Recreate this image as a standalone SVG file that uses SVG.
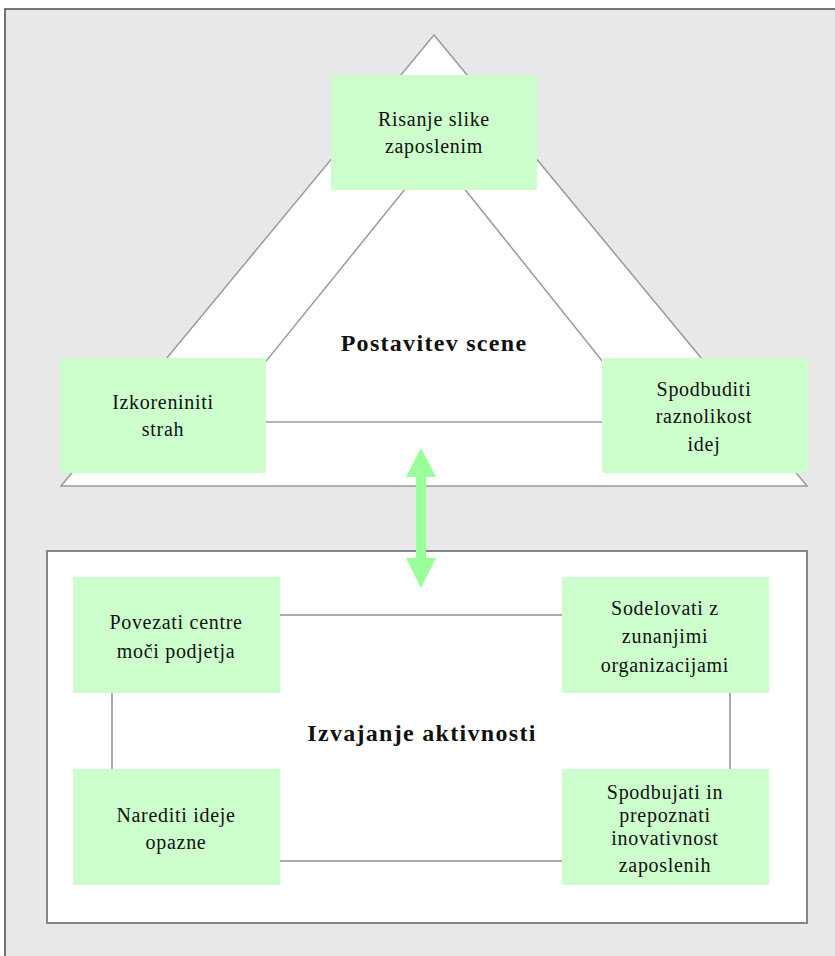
<svg xmlns="http://www.w3.org/2000/svg" width="835" height="956" viewBox="0 0 835 956">
  <defs>
    <style>
      .frame { fill: #e8e8e8; stroke: #4a4a4a; stroke-width: 1.5; }
      .shape { fill: #ffffff; stroke: #9a9a9a; stroke-width: 1.5; }
      .panel { fill: #ffffff; stroke: #858585; stroke-width: 2; }
      .node rect { fill: #ccffcc; stroke: none; }
      .node text, .title { font-family: "Liberation Serif", "Times New Roman", serif; fill: #111111; text-anchor: middle; }
      .node text { font-size: 20px; letter-spacing: 0.7px; }
      .title { font-size: 24px; font-weight: bold; letter-spacing: 1.3px; }
      .link { fill: none; stroke: #8c8c8c; stroke-width: 1.5; }
      .arrow { fill: #99ff99; stroke: none; }
    </style>
  </defs>

  <!-- background frame -->
  <rect class="frame" x="5" y="9" width="840" height="960"/>

  <!-- upper section: triangle with inner triangle -->
  <g id="triangle">
    <polygon class="shape" points="434,35 61,486 807,486"/>
    <polygon class="shape" points="435,152 217,422 651,422"/>
    <text class="title" x="434" y="351">Postavitev scene</text>
  </g>

  <!-- lower section: panel -->
  <g id="panel">
    <rect class="panel" x="47" y="551" width="760" height="372"/>
  </g>

  <!-- connectors -->
  <g id="connectors">
    <line class="link" x1="280" y1="615" x2="562" y2="615"/>
    <line class="link" x1="280" y1="861" x2="562" y2="861"/>
    <line class="link" x1="112" y1="693" x2="112" y2="769"/>
    <line class="link" x1="730" y1="693" x2="730" y2="769"/>
    <polygon class="arrow" points="421,448 436,477 426,477 426,558 436,558 421,588 406,558 416,558 416,477 406,477"/>
  </g>

  <g id="panel-title">
    <text class="title" x="422" y="741">Izvajanje aktivnosti</text>
  </g>

  <!-- triangle nodes -->
  <g id="node-risanje" class="node">
    <rect x="331" y="75" width="206" height="115"/>
    <text x="434" y="126">Risanje slike</text>
    <text x="434" y="153">zaposlenim</text>
  </g>
  <g id="node-izkoreniniti" class="node">
    <rect x="60" y="358" width="206" height="115"/>
    <text x="163" y="409">Izkoreniniti</text>
    <text x="163" y="436">strah</text>
  </g>
  <g id="node-spodbuditi" class="node">
    <rect x="602" y="358" width="206" height="115"/>
    <text x="704" y="396">Spodbuditi</text>
    <text x="704" y="423">raznolikost</text>
    <text x="704" y="451">idej</text>
  </g>

  <!-- panel nodes -->
  <g id="node-povezati" class="node">
    <rect x="73" y="577" width="207" height="116"/>
    <text x="176" y="629">Povezati centre</text>
    <text x="176" y="658">moči podjetja</text>
  </g>
  <g id="node-sodelovati" class="node">
    <rect x="562" y="577" width="207" height="116"/>
    <text x="665" y="615">Sodelovati z</text>
    <text x="665" y="643">zunanjimi</text>
    <text x="665" y="672">organizacijami</text>
  </g>
  <g id="node-narediti" class="node">
    <rect x="73" y="769" width="207" height="116"/>
    <text x="176" y="822">Narediti ideje</text>
    <text x="176" y="849">opazne</text>
  </g>
  <g id="node-spodbujati" class="node">
    <rect x="562" y="769" width="207" height="116"/>
    <text x="665" y="799">Spodbujati in</text>
    <text x="665" y="822">prepoznati</text>
    <text x="665" y="845">inovativnost</text>
    <text x="665" y="872">zaposlenih</text>
  </g>
</svg>
